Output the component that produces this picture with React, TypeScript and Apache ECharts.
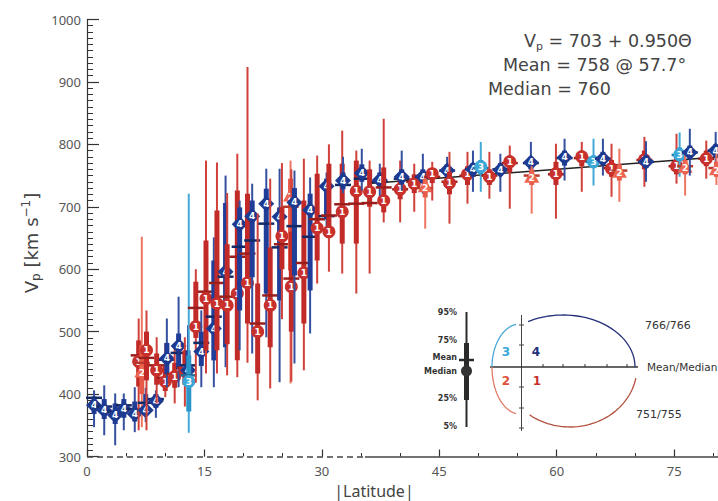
import React, { useEffect, useRef } from "react";
import * as echarts from "echarts";

// ---------- data ----------
const latitude = [
  0.9, 2.2, 3.6, 4.7, 6.1, 6.6, 7.0, 7.5, 7.6, 8.8, 8.9, 10.0, 10.2, 11.2, 11.7, 12.5, 12.9, 13.0, 13.9, 14.6,
  15.2, 16.2, 16.6, 17.7, 17.9, 19.2, 19.5, 20.5, 21.1, 21.8, 22.9, 23.4, 24.6, 24.9, 26.0, 26.1, 26.5, 27.7, 28.5, 29.4,
  30.6, 30.9, 32.6, 32.7, 34.4, 35.1, 36.1, 37.4, 37.9, 40.0, 40.2, 41.8, 42.9, 43.2, 44.1, 46.0, 46.3, 48.6, 49.3, 50.3,
  51.4, 52.8, 54.0, 56.7, 56.8, 59.9, 61.0, 63.2, 64.7, 65.9, 67.0, 68.0, 71.2, 71.4, 75.3, 75.7, 76.4, 77.0, 79.1, 80.3, 80.4,
];
const quadrant = [
  4, 4, 4, 4, 4, 1, 2, 4, 1, 4, 1, 1, 4, 1, 4, 1, 4, 3, 1, 4,
  1, 4, 1, 4, 1, 1, 4, 1, 4, 1, 4, 1, 4, 1, 2, 1, 4, 1, 4, 1,
  4, 1, 1, 4, 1, 4, 1, 4, 1, 1, 4, 1, 4, 2, 1, 4, 1, 1, 4, 3,
  1, 4, 1, 4, 2, 1, 4, 1, 3, 4, 1, 2, 1, 4, 1, 3, 2, 4, 1, 4, 2,
];
const medianV = [
  382, 374, 366, 376, 368, 452, 436, 374, 470, 389, 438, 420, 457, 428, 477, 438, 438, 420, 508, 468,
  553, 505, 545, 596, 542, 561, 672, 578, 685, 500, 705, 542, 684, 653, 718, 572, 707, 594, 695, 666,
  733, 660, 692, 742, 725, 754, 724, 743, 710, 728, 748, 737, 748, 733, 753, 758, 738, 752, 760, 764,
  748, 759, 772, 771, 748, 753, 779, 780, 772, 777, 761, 756, 775, 772, 765, 783, 764, 787, 777, 790, 760,
];
const meanV = [
  394, 380, 372, 382, 376, 462, 450, 386, 458, 392, 446, 426, 455, 432, 466, 442, 446, 430, 538, 482,
  564, 524, 578, 588, 556, 620, 636, 625, 646, 513, 673, 558, 635, 640, 700, 585, 669, 610, 652, 680,
  685, 686, 704, 735, 705, 745, 706, 740, 731, 728, 745, 740, 748, 730, 748, 758, 740, 750, 760, 762,
  750, 760, 770, 770, 750, 752, 778, 778, 772, 777, 762, 758, 775, 772, 765, 783, 765, 787, 777, 790, 762,
];
const p05 = [
  347, 334, 318, 342, 339, 342, 347, 355, 342, 362, 385, 395, 411, 385, 411, 380, 395, 338, 418, 411,
  433, 411, 433, 443, 430, 427, 470, 450, 465, 390, 491, 409, 419, 520, 417, 420, 449, 438, 497, 577,
  668, 596, 593, 722, 561, 726, 593, 713, 675, 675, 726, 692, 721, 665, 710, 732, 673, 705, 724, 724,
  713, 724, 697, 742, 689, 681, 742, 724, 734, 750, 716, 708, 732, 740, 737, 748, 718, 750, 745, 765, 735,
];
const p25 = [
  368, 360, 352, 362, 356, 412, 400, 366, 422, 378, 415, 405, 432, 410, 440, 415, 420, 372, 490, 445,
  470, 454, 470, 475, 480, 454, 534, 513, 587, 433, 561, 475, 550, 600, 598, 500, 590, 513, 566, 614,
  680, 657, 641, 728, 641, 740, 700, 732, 691, 712, 736, 722, 738, 715, 738, 748, 720, 735, 748, 752,
  735, 750, 755, 760, 735, 735, 766, 765, 762, 767, 748, 742, 760, 762, 752, 773, 752, 777, 765, 780, 748,
];
const p75 = [
  396, 392, 385, 392, 388, 486, 478, 400, 500, 400, 465, 445, 482, 450, 497, 470, 470, 462, 580, 500,
  646, 614, 694, 706, 640, 726, 699, 721, 710, 577, 729, 635, 699, 700, 745, 660, 730, 710, 721, 753,
  745, 769, 769, 755, 774, 768, 760, 755, 763, 745, 760, 752, 760, 745, 762, 768, 756, 765, 770, 775,
  760, 770, 782, 780, 760, 772, 790, 790, 782, 788, 775, 768, 790, 782, 778, 795, 775, 798, 790, 800, 772,
];
const p95 = [
  406, 414, 401, 401, 411, 521, 652, 410, 534, 406, 491, 481, 521, 475, 556, 491, 510, 721, 600, 534,
  774, 651, 771, 750, 722, 785, 710, 924, 737, 689, 761, 745, 761, 770, 774, 760, 758, 777, 747, 782,
  755, 800, 822, 780, 790, 793, 774, 769, 841, 774, 790, 769, 785, 748, 772, 780, 788, 788, 790, 804,
  788, 785, 798, 804, 765, 801, 809, 804, 809, 809, 801, 793, 812, 805, 817, 819, 785, 825, 806, 820, 785,
];

const FIT_INTERCEPT = 703;
const FIT_SLOPE = 0.95;
const FIT_RANGE = [36, 80.6];
const MEAN_ALL = 758;
const MEAN_AT_LAT = 57.7;
const MEDIAN_ALL = 760;
const Q4_STATS = "766/766";
const Q1_STATS = "751/755";
const X_MAX = 80.6;
const DASHED_UNTIL = 35.5;

const QCOL: Record<number, { whisker: string; box: string; mean: string; marker: string }> = {
  1: { whisker: "#d0413a", box: "#c22a27", mean: "#9a1f1c", marker: "#c8302c" },
  2: { whisker: "#ee7562", box: "#e65a48", mean: "#b83a2c", marker: "#ec6650" },
  3: { whisker: "#45a9d8", box: "#2b95c8", mean: "#1f6f99", marker: "#3aa7d8" },
  4: { whisker: "#34509f", box: "#1f3d99", mean: "#142a66", marker: "#1e3a90" },
};

const FONT = "'Noto Sans', 'DejaVu Sans', sans-serif";
const WIDE = "'DejaVu Sans', sans-serif";

function arcPts(cx: number, cy: number, rx: number, ry: number, a0: number, a1: number, n = 40) {
  const pts: number[][] = [];
  for (let i = 0; i <= n; i++) {
    const a = ((a0 + ((a1 - a0) * i) / n) * Math.PI) / 180;
    pts.push([cx + rx * Math.cos(a), cy - ry * Math.sin(a)]);
  }
  return pts;
}

const renderItem = (params: any, api: any) => {
  const x = api.value(0);
  const q = api.value(7);
  const c = QCOL[q];
  const pMed = api.coord([x, api.value(1)]);
  const pMean = api.coord([x, api.value(2)]);
  const pLo = api.coord([x, api.value(3)]);
  const pQ1 = api.coord([x, api.value(4)]);
  const pQ3 = api.coord([x, api.value(5)]);
  const pHi = api.coord([x, api.value(6)]);
  const cx = pMed[0];
  const cy = pMed[1];
  let marker: any;
  let ty = cy;
  if (q === 4) {
    marker = {
      type: "polygon",
      shape: { points: [[cx, cy - 8], [cx + 8, cy], [cx, cy + 8], [cx - 8, cy]] },
      style: { fill: c.marker },
    };
  } else if (q === 2) {
    marker = {
      type: "polygon",
      shape: { points: [[cx, cy - 8], [cx + 7.5, cy + 6], [cx - 7.5, cy + 6]] },
      style: { fill: c.marker },
    };
    ty = cy + 1.5;
  } else {
    marker = { type: "circle", shape: { cx, cy, r: 6.5 }, style: { fill: c.marker } };
  }
  return {
    type: "group",
    children: [
      { type: "line", shape: { x1: cx, y1: pHi[1], x2: cx, y2: pLo[1] }, style: { stroke: c.whisker, lineWidth: 2 } },
      { type: "rect", shape: { x: cx - 2.5, y: pQ3[1], width: 5, height: pQ1[1] - pQ3[1] }, style: { fill: c.box } },
      { type: "line", shape: { x1: cx - 8, y1: pMean[1], x2: cx + 8, y2: pMean[1] }, style: { stroke: c.mean, lineWidth: 2.5 } },
      marker,
      {
        type: "text",
        x: cx,
        y: ty,
        style: {
          text: String(q),
          fill: "#fff",
          fontSize: 9,
          fontWeight: "bold",
          fontFamily: WIDE,
          align: "center",
          verticalAlign: "middle",
        },
      },
    ],
  };
};

export default function App() {
  const ref = useRef<HTMLDivElement>(null);
  useEffect(() => {
    if (!ref.current) return;
    const chart = echarts.init(ref.current, null, { renderer: "svg" });

    const data = latitude.map((lat, i) => [lat, medianV[i], meanV[i], p05[i], p25[i], p75[i], p95[i], quadrant[i]]);
    const fitData = FIT_RANGE.map((l) => [l, FIT_INTERCEPT + FIT_SLOPE * l]);

    const ink = "#2a2a2a";
    const legendLabels = [
      ["95%", 312],
      ["75%", 340],
      ["Mean", 357],
      ["Median", 371],
      ["25%", 398],
      ["5%", 426],
    ];

    const graphic: any[] = [
      // top-right annotation
      {
        type: "text",
        left: 524,
        top: 32,
        style: {
          text: `V{s|p} = ${FIT_INTERCEPT} + ${FIT_SLOPE.toFixed(3)}Θ`,
          fill: "#444",
          fontSize: 17.5,
          fontFamily: WIDE,
          rich: { s: { fontSize: 11, fill: "#444", padding: [10, 0, 0, 0], fontFamily: WIDE } },
        },
      },
      {
        type: "text",
        left: 503,
        top: 56,
        style: { text: `Mean = ${MEAN_ALL} @ ${MEAN_AT_LAT}°`, fill: "#444", fontSize: 17.5, fontFamily: WIDE },
      },
      {
        type: "text",
        left: 488,
        top: 80,
        style: { text: `Median = ${MEDIAN_ALL}`, fill: "#444", fontSize: 17.5, fontFamily: WIDE },
      },
      // y axis title
      {
        type: "text",
        x: 31,
        y: 243,
        rotation: Math.PI / 2,
        style: {
          text: "V{s|p} [km s{u|−1}]",
          fill: "#444",
          fontSize: 18,
          fontFamily: WIDE,
          align: "center",
          verticalAlign: "middle",
          rich: {
            s: { fontSize: 12, fill: "#444", padding: [10, 0, 0, 0], fontFamily: WIDE },
            u: { fontSize: 12, fill: "#444", padding: [0, 0, 10, 0], fontFamily: WIDE },
          },
        },
      },
      // x axis title
      {
        type: "text",
        x: 374,
        y: 491,
        style: { text: "|Latitude|", fill: "#444", fontSize: 16, fontFamily: FONT, align: "center", verticalAlign: "middle" },
      },
      // inset: box legend
      { type: "line", shape: { x1: 466.5, y1: 312, x2: 466.5, y2: 427 }, style: { stroke: ink, lineWidth: 2 } },
      { type: "rect", shape: { x: 464, y: 343, width: 5, height: 57 }, style: { fill: ink } },
      { type: "line", shape: { x1: 459, y1: 360, x2: 474, y2: 360 }, style: { stroke: ink, lineWidth: 2.5 } },
      { type: "circle", shape: { cx: 466.5, cy: 371, r: 5.5 }, style: { fill: "#333" } },
      ...legendLabels.map(([t, y]) => ({
        type: "text",
        x: 457,
        y: y as number,
        style: { text: t, fill: "#333", fontSize: 8, fontWeight: "bold", fontFamily: WIDE, align: "right", verticalAlign: "middle" },
      })),
      // inset: quadrant axes
      { type: "line", shape: { x1: 521.5, y1: 315, x2: 521.5, y2: 431 }, style: { stroke: "#444", lineWidth: 1 } },
      ...[325, 345, 387, 408, 428].map((y) => ({
        type: "line",
        shape: { x1: 519, y1: y, x2: 524, y2: y },
        style: { stroke: "#444", lineWidth: 1 },
      })),
      { type: "line", shape: { x1: 490, y1: 367, x2: 638, y2: 367 }, style: { stroke: "#333", lineWidth: 1.5 } },
      ...[543, 563, 585, 607, 627].map((x) => ({
        type: "line",
        shape: { x1: x, y1: 364, x2: x, y2: 367 },
        style: { stroke: "#333", lineWidth: 1 },
      })),
      { type: "polyline", shape: { points: arcPts(563, 367, 72, 52, 119, 0) }, style: { stroke: "#26307a", lineWidth: 1.3, fill: "none" } },
      { type: "polyline", shape: { points: arcPts(570, 367, 67, 60, -127, -10.6) }, style: { stroke: "#b2503e", lineWidth: 1.3, fill: "none" } },
      { type: "polyline", shape: { points: arcPts(520, 367, 28, 43, 98, 180) }, style: { stroke: "#4aa8d8", lineWidth: 1.3, fill: "none" } },
      { type: "polyline", shape: { points: arcPts(520, 367, 28, 47, 180, 262) }, style: { stroke: "#e07a66", lineWidth: 1.3, fill: "none" } },
      { type: "text", x: 506, y: 352, style: { text: "3", fill: "#3aa7d8", fontSize: 12, fontWeight: "bold", fontFamily: WIDE, align: "center", verticalAlign: "middle" } },
      { type: "text", x: 536, y: 352, style: { text: "4", fill: "#26307a", fontSize: 12, fontWeight: "bold", fontFamily: WIDE, align: "center", verticalAlign: "middle" } },
      { type: "text", x: 506, y: 381, style: { text: "2", fill: "#e0503c", fontSize: 12, fontWeight: "bold", fontFamily: WIDE, align: "center", verticalAlign: "middle" } },
      { type: "text", x: 537, y: 381, style: { text: "1", fill: "#c8302c", fontSize: 12, fontWeight: "bold", fontFamily: WIDE, align: "center", verticalAlign: "middle" } },
      { type: "text", x: 645, y: 325, style: { text: Q4_STATS, fill: "#333", fontSize: 11, fontFamily: WIDE, align: "left", verticalAlign: "middle" } },
      { type: "text", x: 647, y: 367, style: { text: "Mean/Median", fill: "#333", fontSize: 10.5, fontFamily: WIDE, align: "left", verticalAlign: "middle" } },
      { type: "text", x: 636, y: 414, style: { text: Q1_STATS, fill: "#333", fontSize: 11, fontFamily: WIDE, align: "left", verticalAlign: "middle" } },
    ];

    const option: any = {
      animation: false,
      backgroundColor: "#fff",
      grid: { left: 87, right: 0, top: 19.5, bottom: 44.5, containLabel: false, outerBoundsMode: "none" },
      xAxis: [
        {
          type: "value",
          min: 0,
          max: X_MAX,
          interval: 15,
          position: "bottom",
          axisLine: { show: false },
          axisTick: { show: true, inside: true, length: 7, lineStyle: { color: "#333", width: 1.2 } },
          axisLabel: {
            color: "#555",
            fontSize: 13,
            fontFamily: FONT,
            margin: 8,
            formatter: (v: number) => (Math.abs(v % 15) < 1e-6 ? String(v) : ""),
          },
          splitLine: { show: false },
        },
        {
          type: "value",
          min: 0,
          max: X_MAX,
          interval: 5,
          position: "bottom",
          axisLine: { show: false },
          axisTick: { show: true, inside: true, length: 3.5, lineStyle: { color: "#333", width: 1 } },
          axisLabel: { show: false },
          splitLine: { show: false },
        },
      ],
      yAxis: {
        type: "value",
        min: 300,
        max: 1000,
        interval: 100,
        axisLine: { show: true, lineStyle: { color: "#333", width: 1.2 } },
        axisTick: { show: true, inside: true, length: 12, lineStyle: { color: "#333", width: 1.2 } },
        minorTick: { show: true, splitNumber: 10, length: 6, lineStyle: { color: "#333", width: 1 } },
        axisLabel: { color: "#555", fontSize: 13, fontFamily: FONT, margin: 6, formatter: (v: number) => String(v) },
        splitLine: { show: false },
      },
      series: [
        {
          type: "line",
          name: "fit",
          xAxisIndex: 0,
          data: fitData,
          symbol: "none",
          clip: false,
          z: 1,
          lineStyle: { color: "#222", width: 1.5 },
          markLine: {
            silent: true,
            symbol: ["none", "none"],
            label: { show: false },
            lineStyle: { color: "#444", width: 1.5 },
            data: [
              [
                { coord: [0, 300], lineStyle: { type: [6, 4], color: "#444", width: 1.5 } },
                { coord: [DASHED_UNTIL, 300] },
              ],
              [
                { coord: [DASHED_UNTIL, 300], lineStyle: { type: "solid", color: "#444", width: 1.5 } },
                { coord: [X_MAX, 300] },
              ],
            ],
          },
        },
        {
          type: "custom",
          name: "latitude bins",
          xAxisIndex: 0,
          renderItem,
          data,
          encode: { x: 0, y: 1 },
          clip: false,
          z: 2,
        },
      ],
      graphic,
    };
    chart.setOption(option);
    return () => chart.dispose();
  }, []);

  return <div ref={ref} style={{ position: "fixed", left: 0, top: 0, width: 718, height: 501 }} />;
}
